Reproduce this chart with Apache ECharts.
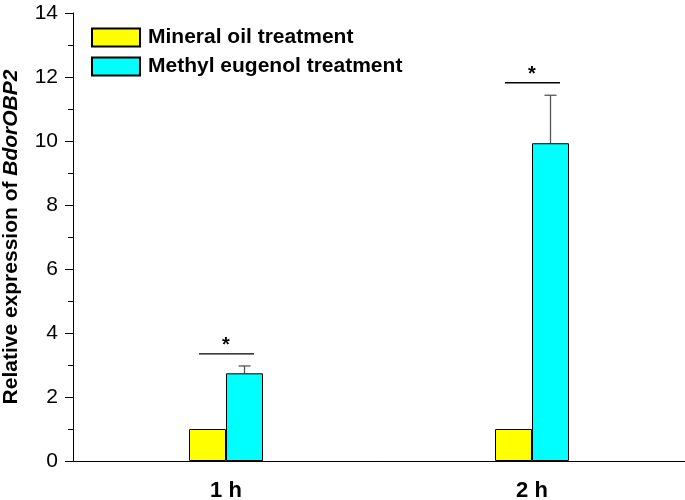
<!DOCTYPE html>
<html><head><meta charset="utf-8">
<script src="https://cdn.jsdelivr.net/npm/echarts@6/dist/echarts.min.js"></script>
<style>html,body{margin:0;padding:0;background:#fff}#c{width:685px;height:500px}</style>
</head><body><div id="c"></div>
<script>
const categories = ['1 h', '2 h'];
const mineralOil = [1, 1];
const methylEugenol = [2.74, 9.93];
const methylEugenolErr = [0.23, 1.5];
const sigLevels = [3.35, 11.82];
const sigLabels = ['*', '*'];

const chart = echarts.init(document.getElementById('c'));
const BW = 37;
const FF = '"Liberation Sans", Arial, sans-serif';

chart.setOption({
  animation: false,
  grid: { left: 73, right: 0, top: 13, bottom: 39, outerBoundsMode: 'none', containLabel: false },
  legend: {
    orient: 'vertical', left: 86, top: 22, itemWidth: 48, itemHeight: 18, itemGap: 8,
    icon: 'rect',
    data: ['Mineral oil treatment', 'Methyl eugenol treatment'],
    textStyle: { fontFamily: FF, fontSize: 21, fontWeight: 'bold', color: '#000', padding: [0, 0, 0, 3] }
  },
  xAxis: {
    type: 'category', data: categories,
    axisLine: { lineStyle: { color: '#000', width: 1 } },
    axisTick: { alignWithLabel: true, length: 8, lineStyle: { color: '#000' } },
    axisLabel: { fontFamily: FF, fontSize: 22, fontWeight: 'bold', color: '#000', margin: 19 }
  },
  yAxis: {
    type: 'value', min: 0, max: 14, interval: 2,
    name: '{n|Relative expression of }{i|BdorOBP2}', nameLocation: 'middle', nameGap: 51,
    nameRotate: 90,
    nameTextStyle: { rich: {
      n: { fontFamily: FF, fontSize: 21, fontWeight: 'bold', color: '#000' },
      i: { fontFamily: FF, fontSize: 21, fontWeight: 'bold', fontStyle: 'italic', color: '#000' }
    } },
    axisLine: { show: true, lineStyle: { color: '#000', width: 1 } },
    axisTick: { show: true, length: 8, lineStyle: { color: '#000' } },
    minorTick: { show: true, splitNumber: 2, length: 5, lineStyle: { color: '#000' } },
    splitLine: { show: false },
    axisLabel: { fontFamily: FF, fontSize: 21, color: '#000', margin: 15 }
  },
  series: [
    { name: 'Mineral oil treatment', type: 'bar', data: mineralOil, barWidth: BW, barGap: '0%',
      itemStyle: { color: '#ffff00', borderColor: '#000', borderWidth: 1 } },
    { name: 'Methyl eugenol treatment', type: 'bar', data: methylEugenol, barWidth: BW, barGap: '0%',
      itemStyle: { color: '#00ffff', borderColor: '#000', borderWidth: 1 } },
    { type: 'custom', name: 'err', silent: true, z: 1,
      data: methylEugenol.map((v, i) => [i, v, v + methylEugenolErr[i]]),
      renderItem: function (params, api) {
        const p0 = api.coord([api.value(0), api.value(1)]);
        const p1 = api.coord([api.value(0), api.value(2)]);
        const x = p0[0] + BW / 2;
        return { type: 'group', children: [
          { type: 'line', shape: { x1: x, y1: p0[1], x2: x, y2: p1[1] }, style: { stroke: '#555', lineWidth: 1.3 } },
          { type: 'line', shape: { x1: x - 6, y1: p1[1], x2: x + 6, y2: p1[1] }, style: { stroke: '#555', lineWidth: 1.3 } }
        ] };
      }
    },
    { type: 'custom', name: 'sig', silent: true,
      data: sigLevels.map((v, i) => [i, v]),
      renderItem: function (params, api) {
        const p = api.coord([api.value(0), api.value(1)]);
        const cx = p[0];
        return { type: 'group', children: [
          { type: 'line', shape: { x1: cx - 27, y1: p[1], x2: cx + 28, y2: p[1] }, style: { stroke: '#000', lineWidth: 1.3 } },
          { type: 'text', x: cx, y: p[1] + 2, style: { text: sigLabels[params.dataIndex], fontFamily: FF, fontSize: 20, fontWeight: 'bold', fill: '#000', align: 'center', verticalAlign: 'bottom' } }
        ] };
      }
    }
  ]
});
</script></body></html>
